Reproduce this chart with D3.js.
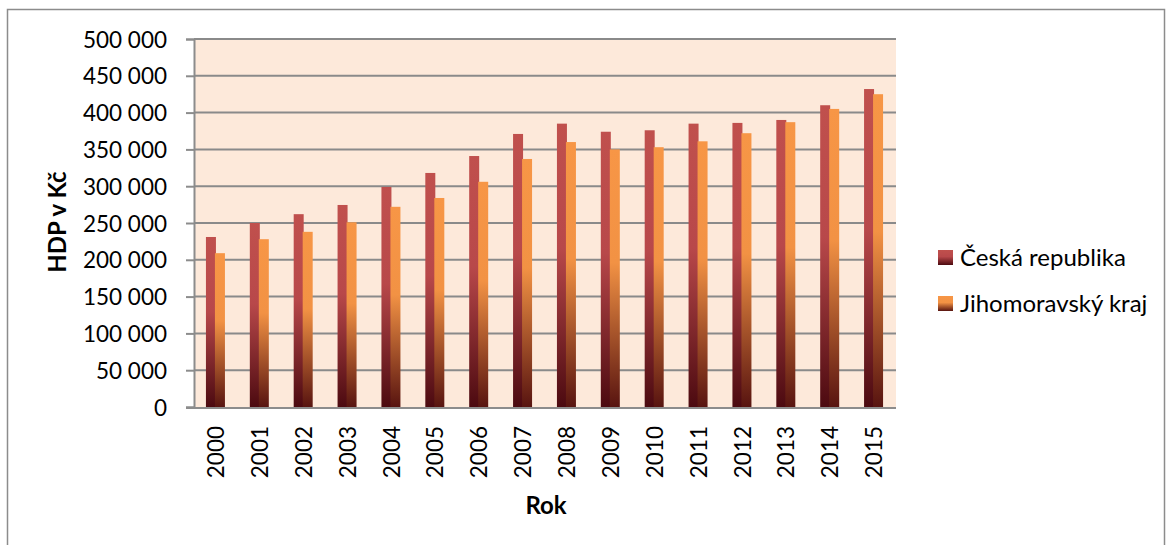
<!DOCTYPE html>
<html>
<head>
<meta charset="utf-8">
<script src="https://cdn.jsdelivr.net/npm/d3@7"></script>
<style>
  body { margin: 0; background: #fff; }
  text { font-family: Lato, "Open Sans", sans-serif; fill: #000; }
</style>
</head>
<body>
<script>
// data
let years = ['2000', '2001', '2002', '2003', '2004', '2005', '2006', '2007',
             '2008', '2009', '2010', '2011', '2012', '2013', '2014', '2015']
let cr = [231000, 250000, 262000, 274500, 299000, 318000, 341000, 371000,
          385000, 374000, 376000, 385000, 386000, 390000, 410000, 432000]
let jmk = [209000, 228000, 238000, 251000, 272000, 284000, 306000, 337000,
           360000, 350000, 353000, 361000, 372000, 387000, 405000, 425000]
let seriesNames = ['Česká republika', 'Jihomoravský kraj']
let yTicks = [0, 50000, 100000, 150000, 200000, 250000, 300000, 350000, 400000, 450000, 500000]

let W = 1168, H = 545
let plot = { left: 194, right: 896, top: 39, bottom: 407 }

let svg = d3.select('body').append('svg')
    .attr('width', W)
    .attr('height', H)

// gradients: solid on top, darkening to the bottom of each bar
let defs = svg.append('defs')
let grads = [
    { id: 'gRed', top: '#c0504d', mid: '#b8484a', bottom: '#4c0a10' },
    { id: 'gOrange', top: '#f79646', mid: '#f29244', bottom: '#581410' }
]
grads.forEach(function (g) {
    let lg = defs.append('linearGradient')
        .attr('id', g.id)
        .attr('x1', 0).attr('y1', 0).attr('x2', 0).attr('y2', 1)
    lg.append('stop').attr('offset', '0%').attr('stop-color', g.top)
    lg.append('stop').attr('offset', '44%').attr('stop-color', g.mid)
    lg.append('stop').attr('offset', '100%').attr('stop-color', g.bottom)
})

// outer chart border
svg.append('rect')
    .attr('x', 7.5).attr('y', 9.5)
    .attr('width', 1157).attr('height', 560)
    .attr('fill', 'none')
    .attr('stroke', '#8c8c8c')
    .attr('stroke-width', 1.5)

let x = d3.scaleBand()
    .domain(years)
    .range([plot.left, plot.right])

let x1 = d3.scaleBand()
    .domain(seriesNames)
    .range([-10, 10])

let y = d3.scaleLinear()
    .domain([0, 500000])
    .range([plot.bottom, plot.top])

// plot area
svg.append('rect')
    .attr('x', plot.left).attr('y', plot.top)
    .attr('width', plot.right - plot.left)
    .attr('height', plot.bottom - plot.top)
    .attr('fill', '#fde9da')

let fmt = function (d) { return d3.format(',')(d).replace(/,/g, ' ') }

// y axis with gridlines
let yAxis = svg.append('g')
    .attr('transform', 'translate(' + plot.left + ',0)')
    .call(d3.axisLeft(y).tickValues(yTicks).tickSize(8).tickPadding(19).tickFormat(fmt))
yAxis.select('.domain').attr('stroke', '#8c8c8c').attr('stroke-width', 2)
yAxis.selectAll('.tick line').attr('stroke', '#8c8c8c').attr('stroke-width', 2)
yAxis.selectAll('.tick text').attr('font-size', 22.5).attr('dy', '0.36em')

svg.append('g')
    .selectAll('line')
    .data(yTicks.filter(function (d) { return d > 0 }))
    .enter().append('line')
    .attr('x1', plot.left).attr('x2', plot.right)
    .attr('y1', function (d) { return y(d) })
    .attr('y2', function (d) { return y(d) })
    .attr('stroke', '#8a8a8a')
    .attr('stroke-width', 2)

// bars
let rows = years.map(function (yr, i) { return { year: yr, vals: [cr[i], jmk[i]] } })
let groups = svg.append('g')
    .selectAll('g')
    .data(rows)
    .enter().append('g')
    .attr('transform', function (d) { return 'translate(' + (x(d.year) + x.bandwidth() / 2) + ',0)' })

groups.selectAll('rect')
    .data(function (d) { return d.vals.map(function (v, j) { return { name: seriesNames[j], v: v, j: j } }) })
    .enter().append('rect')
    .attr('x', function (d) { return x1(d.name) - d.j })
    .attr('width', x1.bandwidth())
    .attr('y', function (d) { return y(d.v) })
    .attr('height', function (d) { return y(0) - y(d.v) })
    .attr('fill', function (d) { return 'url(#' + grads[d.j].id + ')' })

// x axis
let xAxis = svg.append('g')
    .attr('transform', 'translate(0,' + plot.bottom + ')')
    .call(d3.axisBottom(x).tickSize(0).tickPadding(0))
xAxis.select('.domain')
    .attr('d', 'M' + (plot.left - 8) + ',1H' + plot.right)
    .attr('stroke', '#8c8c8c').attr('stroke-width', 2)
xAxis.selectAll('.tick text')
    .attr('font-size', 22.5)
    .attr('text-anchor', 'end')
    .attr('transform', 'rotate(-90)')
    .attr('x', -19)
    .attr('y', 0)
    .attr('dy', '0.36em')

// axis titles
svg.append('text')
    .attr('x', 546).attr('y', 514)
    .attr('text-anchor', 'middle')
    .attr('font-size', 24)
    .attr('font-weight', 'bold')
    .text('Rok')

svg.append('text')
    .attr('transform', 'translate(66,222) rotate(-90)')
    .attr('text-anchor', 'middle')
    .attr('font-size', 24)
    .attr('font-weight', 'bold')
    .text('HDP v Kč')

// legend
let legend = svg.append('g')
    .selectAll('g')
    .data(seriesNames)
    .enter().append('g')
    .attr('transform', function (d, i) { return 'translate(938,' + (250 + i * 46) + ')' })

legend.append('rect')
    .attr('width', 15).attr('height', 15)
    .attr('fill', function (d, i) { return 'url(#' + grads[i].id + ')' })

legend.append('text')
    .attr('x', 22).attr('y', 7.5)
    .attr('dy', '0.36em')
    .attr('font-size', 24)
    .text(function (d) { return d })
</script>
</body>
</html>
